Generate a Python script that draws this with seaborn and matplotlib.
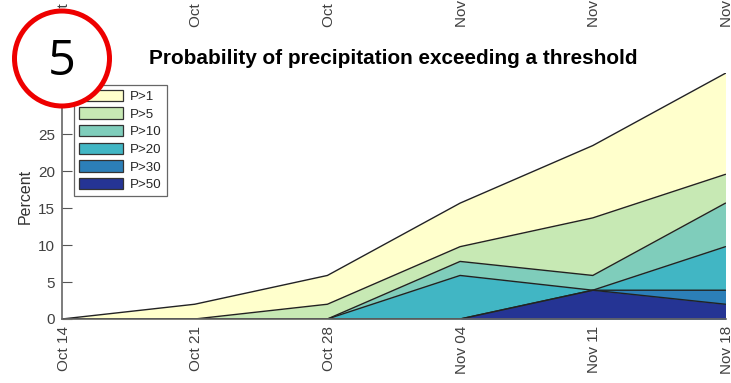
import matplotlib
matplotlib.use("Agg")
from matplotlib import pyplot as plt
from matplotlib.patches import Circle
from matplotlib.transforms import ScaledTranslation
import seaborn as sns

weeks = ["Oct 14", "Oct 21", "Oct 28", "Nov 04", "Nov 11", "Nov 18"]
p1 = [0, 2, 5.9, 15.7, 23.5, 33.3]
p5 = [0, 0, 2, 9.8, 13.7, 19.6]
p10 = [0, 0, 0, 7.8, 5.9, 15.7]
p20 = [0, 0, 0, 5.9, 3.9, 9.8]
p30 = [0, 0, 0, 0, 3.9, 3.9]
p50 = [0, 0, 0, 0, 3.9, 2]
names = ["P>1", "P>5", "P>10", "P>20", "P>30", "P>50"]
colors = ["#FFFFCC", "#C7E9B4", "#7FCDBB", "#41B6C4", "#2C7FB8", "#253494"]

sns.set_theme(style="white")
plt.rcParams["font.family"] = ["Liberation Sans", "DejaVu Sans"]
W, H = 731, 383

fig = plt.figure(figsize=(W / 100, H / 100), dpi=100)
ax = fig.add_axes([62 / W, 1 - 319 / H, (725.5 - 62) / W, (319 - 73) / H])

for vals, name, col in zip([p1, p5, p10, p20, p30, p50], names, colors):
    ax.fill_between(weeks, 0, vals, color=col, lw=0, label=name)
    sns.lineplot(x=weeks, y=vals, ax=ax, color="#222222", lw=1, sort=False, legend=False)

ax.set_xlim(0, 5)
ax.set_ylim(0, 33.33)
ax.set_yticks([0, 5, 10, 15, 20, 25, 30])
ax.set_ylabel("Percent", fontsize=11.5, color="#333333", labelpad=4)
ax.tick_params(axis="y", direction="in", length=7, width=0.8, color="#555555",
               left=True, labelsize=11, labelcolor="#404040", pad=5)
ax.tick_params(axis="x", bottom=False, length=0, labelsize=11, labelcolor="#404040",
               labelrotation=90, pad=5)
for s in ["top", "right"]:
    ax.spines[s].set_visible(False)
for s in ["left", "bottom"]:
    ax.spines[s].set_color("#666666")
    ax.spines[s].set_linewidth(1.2)

# labels repeated above the plot, they run off the top of the image
top = ax.secondary_xaxis("top")
top.set_xticks(range(len(weeks)))
top.set_xticklabels(weeks, rotation=90, fontsize=11, color="#404040")
top.tick_params(axis="x", top=False, length=0, pad=33)
top.spines["top"].set_visible(False)

# nudge rotated labels right, they sit a bit left of the tick otherwise
nudge = ScaledTranslation(1.5 / 100, 0, fig.dpi_scale_trans)
for lab in ax.get_xticklabels() + top.get_xticklabels():
    lab.set_transform(lab.get_transform() + nudge)

fig.text(393.5 / W, 1 - 58 / H, "Probability of precipitation exceeding a threshold",
         ha="center", va="center", fontsize=14.95, fontweight="bold", color="black")

leg = ax.legend(loc="upper left", bbox_to_anchor=(74 / W, 1 - 85 / H),
                bbox_transform=fig.transFigure, fontsize=9.6, frameon=True, fancybox=False,
                edgecolor="#666666", framealpha=1, borderaxespad=0, borderpad=0.36,
                handlelength=3.3, handleheight=0.95, handletextpad=0.55, labelspacing=0.32)
leg.get_frame().set_linewidth(0.9)
for h in leg.get_patches():
    h.set_edgecolor("#333333")
    h.set_linewidth(0.9)
leg.set_zorder(5)

# numbered badge drawn over everything, in pixel coordinates
over = fig.add_axes([0, 0, 1, 1], zorder=10)
over.set_xlim(0, W)
over.set_ylim(H, 0)
over.axis("off")
over.patch.set_alpha(0)
over.add_patch(Circle((62, 58.5), 47.5, facecolor="white", edgecolor="#EE0000", lw=3.6))
over.text(62, 62, "5", ha="center", va="center", fontsize=35, color="black",
          family="Open Sans")

fig.savefig("out.png", dpi=100)
